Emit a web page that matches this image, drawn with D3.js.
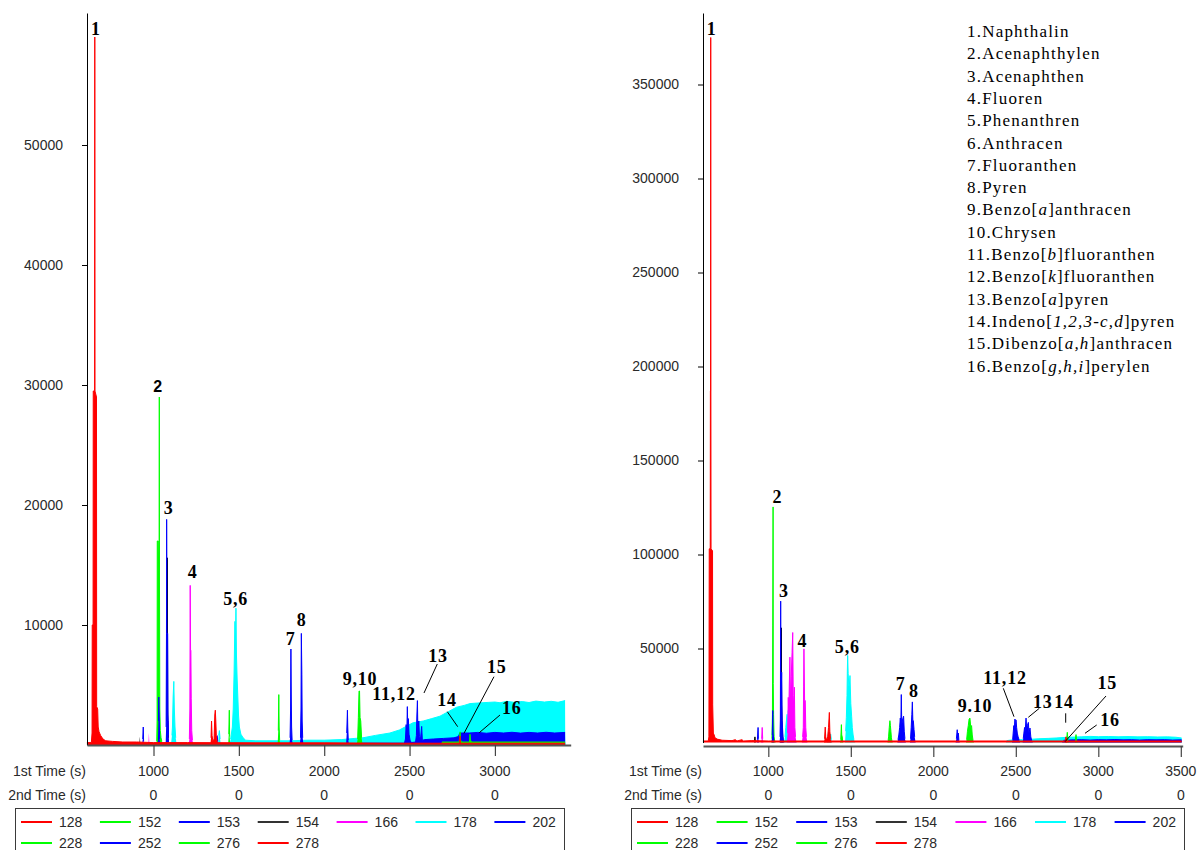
<!DOCTYPE html>
<html>
<head>
<meta charset="utf-8">
<script src="https://cdn.jsdelivr.net/npm/d3@7"></script>
<style>
  html, body { margin: 0; padding: 0; background: #fff; }
  svg { display: block; }
  .axis text, .lbl { font-family: "Liberation Sans", Arial, sans-serif; font-size: 14px; fill: #2a2a2a; }
  .peak { font-family: "Liberation Serif", "Times New Roman", serif; font-weight: bold; font-size: 18px; letter-spacing: 0.8px; fill: #000; }
  .peak.sans { font-family: "Liberation Sans", Arial, sans-serif; font-size: 16px; letter-spacing: 0; }
  .cmp { font-family: "Liberation Serif", "Times New Roman", serif; font-size: 17px; letter-spacing: 1.2px; fill: #000; }
</style>
</head>
<body>
<svg id="chart" width="1201" height="850"></svg>
<script>
// ---------- ion channels (m/z) ----------
const ions = ["128", "152", "153", "154", "166", "178", "202", "228", "252", "276", "278"];
const ionColors = ["#ff0000", "#00ff00", "#0000ff", "#000000", "#ff00ff", "#00ffff", "#0000ff", "#00ff00", "#0000ff", "#00ff00", "#ff0000"];
const drawOrder = ["178", "252", "202", "166", "152", "228", "276", "154", "153", "278", "128"];

// ---------- axis ticks ----------
const leftYTicks = [10000, 20000, 30000, 40000, 50000];
const rightYTicks = [50000, 100000, 150000, 200000, 250000, 300000, 350000];
const leftXTicks = [1000, 1500, 2000, 2500, 3000];
const rightXTicks = [1000, 1500, 2000, 2500, 3000, 3500];
const leftSecondTime = [0, 0, 0, 0, 0];
const rightSecondTime = [0, 0, 0, 0, 0, 0];

// ---------- compound list ----------
const compounds = ["Naphthalin", "Acenaphthylen", "Acenaphthen", "Fluoren", "Phenanthren", "Anthracen",
  "Fluoranthen", "Pyren", "Benzo[{a}]anthracen", "Chrysen", "Benzo[{b}]fluoranthen", "Benzo[{k}]fluoranthen",
  "Benzo[{a}]pyren", "Indeno[{1,2,3-c,d}]pyren", "Dibenzo[{a,h}]anthracen", "Benzo[{g,h,i}]perylen"];

// ---------- left chromatogram: [retention time (s), intensity] ----------
const left128 = [[610,200],[636,200],[640,1000],[641,10000],[646,10000],[647,29500],[655,29500],[656,59000],[657,29500],[666,29000],[667,3200],[673,3000],[676,1500],[681,1100],[690,800],[704,500],[720,350],[760,300],[820,250],[900,250],[1000,200],[1200,200],[1600,180],[2000,180],[2400,150],[2800,150],[3100,150],[3411,150]];
const left152 = [[1016,0],[1019,300],[1021,2000],[1022,17000],[1028,17000],[1030,14500],[1033,14500],[1034,29000],[1035,14000],[1037,3000],[1040,1200],[1044,600],[1049,300],[1054,0],[1437,0],[1441,900],[1444,2900],[1446,700],[1450,0]];
const left153 = [[933,0],[937,500],[940,1500],[942,300],[946,0],[1025,0],[1029,2000],[1031,4000],[1034,2000],[1036,500],[1040,0],[1071,0],[1074,1500],[1076,9300],[1077,18800],[1079,9300],[1083,9300],[1085,2500],[1088,800],[1092,0]];
const left154 = [[917,0],[920,700],[923,0],[1076,0],[1079,2000],[1081,15600],[1083,3000],[1086,600],[1090,0]];
const left166 = [[970,0],[973,1000],[976,0],[1082,0],[1085,2000],[1088,600],[1092,0],[1206,0],[1210,500],[1213,3000],[1215,13300],[1217,7900],[1219,7900],[1221,3900],[1224,1200],[1228,400],[1234,0]];
const left178 = [[1102,0],[1108,800],[1111,1500],[1115,4000],[1119,5300],[1122,3000],[1126,1500],[1130,600],[1136,0],[1378,0],[1382,800],[1386,1200],[1390,500],[1394,0],[1445,0],[1452,500],[1462,1500],[1467,3000],[1472,6000],[1477,10300],[1480,8300],[1483,11400],[1486,7500],[1490,5500],[1494,4000],[1498,2500],[1503,1500],[1512,900],[1525,600],[1540,400],[1600,350],[1700,350],[1800,350],[1900,400],[2000,400],[2100,450],[2180,550],[2227,600],[2300,800],[2385,1000],[2440,1250],[2520,1850],[2580,2000],[2630,2200],[2678,2400],[2730,2800],[2776,3150],[2820,3300],[2854,3450],[2900,3500],[2960,3550],[3000,3580],[3030,3520],[3070,3640],[3110,3560],[3160,3620],[3200,3540],[3240,3660],[3290,3580],[3330,3640],[3370,3560],[3411,3700],[3412,0]];
const left202 = [[1370,0],[1373,800],[1376,300],[1379,0],[1796,0],[1800,600],[1803,3000],[1805,8000],[1807,4000],[1809,1500],[1812,400],[1816,0],[1857,0],[1861,600],[1864,3000],[1866,9300],[1869,5900],[1871,2000],[1874,600],[1879,0],[2128,0],[2132,1000],[2136,2900],[2138,1500],[2141,400],[2146,0]];
const left228 = [[1727,0],[1731,1200],[1734,4200],[1736,1500],[1739,400],[1743,0],[2190,0],[2196,500],[2200,2300],[2204,4500],[2207,4500],[2210,2300],[2214,2000],[2219,600],[2225,0]];
const left252 = [[2200,0],[2210,150],[2470,150],[2476,500],[2480,1700],[2484,1000],[2487,3200],[2490,1200],[2493,2200],[2497,900],[2503,400],[2510,200],[2535,250],[2540,800],[2543,2500],[2546,3700],[2549,1000],[2554,2000],[2558,700],[2564,500],[2571,1550],[2575,400],[2590,450],[2640,500],[2700,550],[2760,600],[2785,700],[2795,1000],[2850,1000],[2900,1050],[2950,980],[3000,1050],[3050,1000],[3100,1060],[3150,990],[3200,1050],[3250,1000],[3300,1060],[3350,1000],[3411,1050],[3412,0]];
const left276 = [[2680,0],[2690,250],[2790,250],[2793,600],[2796,1100],[2799,400],[2808,250],[2851,250],[2854,900],[2857,400],[2864,250],[3411,250],[3412,0]];
const left278 = [[1333,0],[1337,600],[1340,2000],[1343,800],[1348,300],[1355,500],[1359,2500],[1362,2900],[1365,2000],[1368,800],[1373,200],[1378,0],[2788,0],[2792,300],[2795,750],[2798,200],[2802,0]];

// ---------- right chromatogram ----------
const right128 = [[604,800],[636,800],[640,3000],[642,103000],[648,103000],[649,187000],[650,187000],[651,375000],[652,187000],[653,103000],[662,102000],[663,20000],[667,5000],[672,4000],[677,2500],[690,1800],[720,1200],[780,1000],[800,1500],[810,800],[840,1500],[850,800],[900,1000],[1000,800],[1500,800],[2000,800],[2500,800],[3000,800],[3505,800]];
const right152 = [[1018,0],[1022,2000],[1025,15000],[1027,62000],[1029,125300],[1030,31300],[1032,15000],[1035,3000],[1039,800],[1045,0],[1434,0],[1439,1500],[1443,9500],[1445,4000],[1448,3000],[1451,500],[1455,0]];
const right153 = [[930,0],[934,1500],[938,8000],[940,2000],[944,0],[1020,0],[1024,4000],[1027,17000],[1029,5000],[1033,1000],[1037,0],[1068,0],[1071,3000],[1073,12000],[1075,75200],[1077,20000],[1081,37400],[1084,11600],[1089,3000],[1093,500],[1098,0]];
const right154 = [[914,0],[917,1000],[919,3000],[921,500],[925,0],[1072,0],[1076,3000],[1079,61000],[1081,20000],[1084,8000],[1088,2000],[1093,0]];
const right166 = [[956,0],[960,2000],[963,8000],[966,2000],[970,0],[1112,0],[1117,5000],[1121,24000],[1124,15000],[1127,30000],[1131,45400],[1135,20000],[1139,35000],[1144,48000],[1148,58500],[1151,25000],[1154,18500],[1158,29400],[1161,8000],[1165,3000],[1171,0],[1203,0],[1208,3000],[1212,8000],[1214,30000],[1216,49800],[1220,22300],[1224,22300],[1227,8000],[1231,3000],[1237,0]];
const right178 = [[1095,0],[1101,3000],[1106,8000],[1110,12000],[1114,15000],[1117,9000],[1121,17000],[1125,11000],[1129,7000],[1133,9000],[1139,5000],[1145,3000],[1153,2000],[1163,1000],[1172,0],[1356,0],[1360,2000],[1364,5400],[1368,2500],[1373,3000],[1378,4500],[1382,1500],[1388,0],[1465,0],[1469,6000],[1473,13400],[1477,25000],[1479,38000],[1481,46300],[1484,36700],[1488,30000],[1491,30000],[1495,35600],[1500,20700],[1505,14000],[1509,8000],[1514,4000],[1519,1500],[1527,0],[2440,0],[2445,1000],[2470,1300],[2500,1500],[2540,1500],[2590,1700],[2640,2000],[2700,2200],[2744,2400],[2780,2600],[2820,2800],[2860,2900],[2900,3050],[2950,3250],[3000,3100],[3060,3200],[3120,3050],[3180,3150],[3240,3000],[3300,3100],[3360,2950],[3420,3000],[3470,2800],[3505,2400],[3506,0]];
const right202 = [[1782,0],[1786,1500],[1791,4000],[1796,8000],[1800,13000],[1803,9000],[1806,25500],[1809,9000],[1813,12000],[1820,14000],[1824,6000],[1828,2000],[1834,0],[1858,0],[1862,2000],[1866,8000],[1870,15000],[1873,21600],[1876,11600],[1879,11600],[1883,7000],[1887,3000],[1893,0],[2135,0],[2140,2000],[2145,6800],[2148,3000],[2152,5000],[2155,1000],[2161,0]];
const right228 = [[1722,0],[1726,1000],[1729,3000],[1733,8000],[1737,11600],[1740,9000],[1743,6000],[1746,2500],[1750,500],[1755,0],[2198,0],[2202,1500],[2207,6000],[2212,9000],[2217,12500],[2222,13000],[2227,8000],[2232,9000],[2236,4000],[2241,1000],[2247,0]];
const right252 = [[2477,0],[2481,1500],[2484,5000],[2488,9000],[2491,7000],[2495,12500],[2498,6000],[2501,12000],[2505,8000],[2509,5000],[2514,3000],[2520,1500],[2526,0],[2541,0],[2545,2000],[2549,5000],[2553,8000],[2557,6000],[2562,13000],[2566,7000],[2570,9000],[2576,10700],[2580,5000],[2586,7700],[2591,3000],[2597,800],[2604,0],[2780,0],[2790,1200],[2850,1400],[2900,1500],[2950,1300],[3000,1500],[3050,1400],[3100,1600],[3150,1400],[3200,1500],[3250,1300],[3300,1500],[3350,1400],[3400,1500],[3450,1300],[3505,1400],[3506,0]];
const right276 = [[2804,0],[2808,1500],[2812,5400],[2816,1500],[2822,0],[2857,0],[2861,1500],[2865,4200],[2869,1000],[2875,0]];
const right278 = [[1337,0],[1341,2000],[1345,8200],[1348,3000],[1354,1000],[1360,3000],[1365,8000],[1370,16000],[1373,6000],[1377,2000],[1383,0],[2797,0],[2801,1000],[2804,3000],[2807,800],[2813,0]];

// ---------- peak annotations: [text, time, intensity] ----------
const leftPeakLabels = [["1",663,59167],["2",1024.6,29442],["3",1089,19250],["4",1229.6,13917],["5,6",1481.5,11667],["7",1803.7,8333],["8",1868,9917],["9,10",2209.7,5000],["11,12",2408.8,3750],["13",2666.6,6942],["14",2719.3,3250],["15",3010.5,6025],["16",3098.3,2583]];
const leftLeaders = [[2662.5,6750,2584.6,4333],[2721,2775,2782,1525],[2994.6,5692,2818.9,975],[3029.8,2500,2908.5,1025]];
const rightPeakLabels = [["1",657,376330],["2",1054.5,127234],["3",1095,77553],["4",1206,50957],["5,6",1478.8,47447],["7",1802.4,27926],["8",1883,24043],["9.10",2252.7,16383],["11,12",2434.5,31117],["13",2663,18511],["14",2792,18511],["15",3054.5,28298],["16",3071,8777]];
const rightLeaders = [[2424.2,28830,2489,13723],[2642.4,18191,2575.8,13404],[2802.4,15532,2802.4,10532],[3046.7,24734,2798.2,426],[2990.3,9309,2919.4,4894]];

const svg = d3.select("#chart");
svg.append("rect").attr("width", 1201).attr("height", 850).attr("fill", "#fff");

function drawPanel(cfg) {
  const g = svg.append("g");
  const x = d3.scaleLinear().domain(cfg.timeDomain).range([cfg.x0, cfg.x1]);
  const y = d3.scaleLinear().domain([0, cfg.maxIntensity]).range([cfg.yZero, cfg.yTop]);

  // ion traces: filled area plus a thin outline so narrow spikes stay visible
  const area = d3.area().x(d => x(d[0])).y0(y(0)).y1(d => y(d[1]));
  const line = d3.line().defined(d => d[1] > 0).x(d => x(d[0])).y(d => y(d[1]));
  drawOrder.forEach(ion => {
    const i = ions.indexOf(ion);
    const data = cfg.traces[i];
    g.append("path").attr("d", area(data)).attr("fill", ionColors[i]);
    g.append("path").attr("d", line(data)).attr("fill", "none")
      .attr("stroke", ionColors[i]).attr("stroke-width", 1);
  });

  // y axis
  const ya = g.append("g").attr("class", "axis")
    .attr("transform", `translate(${cfg.x0},0)`)
    .call(d3.axisLeft(y).tickValues(cfg.yTicks).tickSize(5).tickSizeOuter(0)
      .tickPadding(19).tickFormat(d3.format("d")));
  ya.select(".domain").attr("stroke", "#000");
  ya.selectAll(".tick line").attr("stroke", "#000");

  // x axis
  const xa = g.append("g").attr("class", "axis")
    .attr("transform", `translate(0,${cfg.axisY})`)
    .call(d3.axisBottom(x).tickValues(cfg.xTicks).tickSize(11).tickSizeOuter(0).tickFormat(""));
  xa.select(".domain").attr("stroke", "#555").attr("stroke-width", 2);
  xa.selectAll(".tick line").attr("stroke", "#444").attr("stroke-width", 1.2);

  g.selectAll(".t1").data(cfg.xTicks).join("text").attr("class", "lbl")
    .attr("x", d => x(d)).attr("y", 776).attr("text-anchor", "middle").text(d => d);
  g.selectAll(".t2").data(cfg.secondTime).join("text").attr("class", "lbl")
    .attr("x", (d, i) => x(cfg.xTicks[i])).attr("y", 800).attr("text-anchor", "middle").text(d => d);
  g.append("text").attr("class", "lbl").attr("x", cfg.x0 - 1).attr("y", 776)
    .attr("text-anchor", "end").text("1st Time (s)");
  g.append("text").attr("class", "lbl").attr("x", cfg.x0 - 1).attr("y", 800)
    .attr("text-anchor", "end").text("2nd Time (s)");

  // peak numbers and leader lines
  g.selectAll(".peak").data(cfg.peakLabels).join("text")
    .attr("class", d => cfg.sansLabels.includes(d[0]) ? "peak sans" : "peak")
    .attr("x", d => x(d[1])).attr("y", d => y(d[2])).attr("text-anchor", "middle").text(d => d[0]);
  g.selectAll(".leader").data(cfg.leaders).join("line")
    .attr("x1", d => x(d[0])).attr("y1", d => y(d[1]))
    .attr("x2", d => x(d[2])).attr("y2", d => y(d[3]))
    .attr("stroke", "#000").attr("stroke-width", 1);

  // ion legend
  const lg = g.append("g");
  lg.append("rect").attr("x", cfg.legendX + 0.5).attr("y", 808.5)
    .attr("width", cfg.legendW).attr("height", 60)
    .attr("fill", "#fff").attr("stroke", "#3a3a3a").attr("stroke-width", 1);
  ions.forEach((ion, i) => {
    const col = i % 7, row = Math.floor(i / 7);
    const lx = cfg.legendX + 6 + col * cfg.legendPitch;
    const ly = 822 + row * 21;
    lg.append("line").attr("x1", lx).attr("x2", lx + 31).attr("y1", ly).attr("y2", ly)
      .attr("stroke", ionColors[i] === "#000000" ? "#333" : ionColors[i]).attr("stroke-width", 2);
    lg.append("text").attr("class", "lbl").attr("x", lx + 38).attr("y", ly + 5).text(ion);
  });
  return { x, y };
}

drawPanel({
  timeDomain: [610.4, 3444], x0: 87, x1: 570.7,
  maxIntensity: 61000, yZero: 745, yTop: 13, axisY: 745,
  traces: [left128, left152, left153, left154, left166, left178, left202, left228, left252, left276, left278],
  yTicks: leftYTicks, xTicks: leftXTicks, secondTime: leftSecondTime,
  peakLabels: leftPeakLabels, leaders: leftLeaders, sansLabels: ["2"],
  legendX: 15, legendW: 549, legendPitch: 78.9
});

drawPanel({
  timeDomain: [604.2, 3511.5], x0: 703, x1: 1182.7,
  maxIntensity: 388032, yZero: 742.5, yTop: 13, axisY: 746,
  traces: [right128, right152, right153, right154, right166, right178, right202, right228, right252, right276, right278],
  yTicks: rightYTicks, xTicks: rightXTicks, secondTime: rightSecondTime,
  peakLabels: rightPeakLabels, leaders: rightLeaders, sansLabels: [],
  legendX: 631, legendW: 553, legendPitch: 79.6
});

// compound names, italic locants in braces
const cg = svg.append("g");
compounds.forEach((name, i) => {
  const t = cg.append("text").attr("class", "cmp").attr("x", 967).attr("y", 37 + i * 22.3);
  t.append("tspan").text((i + 1) + ".");
  name.split(/(\{[^}]*\})/).filter(s => s.length).forEach(seg => {
    if (seg.startsWith("{")) t.append("tspan").attr("font-style", "italic").text(seg.slice(1, -1));
    else t.append("tspan").text(seg);
  });
});
</script>
</body>
</html>
